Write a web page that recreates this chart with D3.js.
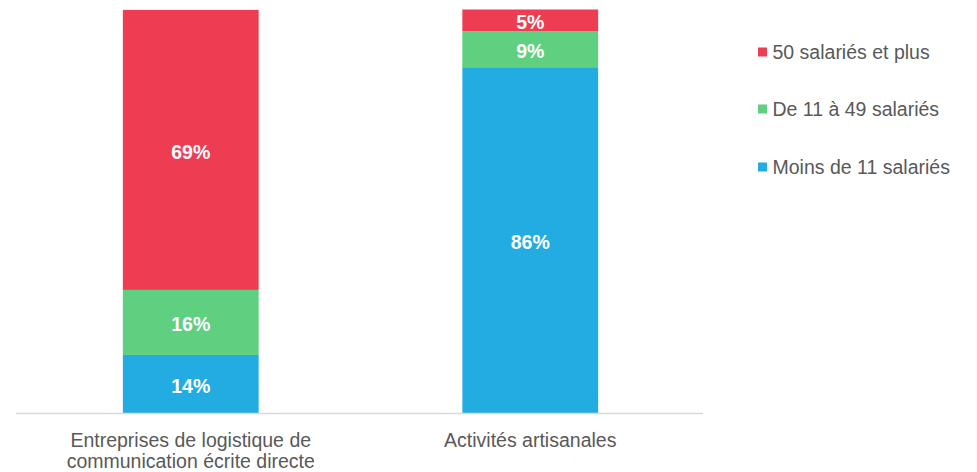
<!DOCTYPE html>
<meta charset="utf-8">
<script src="https://d3js.org/d3.v7.min.js"></script>
<style>
  body { margin: 0; background: #fff; }
  text { font-family: "Liberation Sans", Arial, sans-serif; }
</style>
<div id="chart"></div>
<script>
// data
var categories = [["Entreprises de logistique de", "communication écrite directe"], ["Activités artisanales"]];
var series = ["Moins de 11 salariés", "De 11 à 49 salariés", "50 salariés et plus"];
var moins11 = [14.4, 85.7];
var de11a49 = [16.1, 8.9];
var plus50 = [69.4, 5.4];
var colors = ["#23ace2", "#5fcf80", "#ee3d52"];

var width = 977, height = 472;

var svg = d3.select("#chart")
  .append("svg")
    .attr("width", width)
    .attr("height", height);

var keys = categories.map(function(c, i) { return "c" + i; });
var rows = keys.map(function(k, i) {
  return {key: k, s0: moins11[i], s1: de11a49[i], s2: plus50[i]};
});

var x = d3.scaleBand()
  .domain(keys)
  .range([21, 700])
  .paddingInner(0.6)
  .paddingOuter(0.3);

var y = d3.scaleLinear()
  .domain([0, 100])
  .range([413, 9.5]);

var stack = d3.stack().keys(["s0", "s1", "s2"]);
var layers = stack(rows);

// bars
var g = svg.selectAll(".layer")
  .data(layers)
  .enter().append("g")
    .attr("class", "layer")
    .attr("fill", function(d, i) { return colors[i]; });

g.selectAll("rect")
  .data(function(d) { return d; })
  .enter().append("rect")
    .attr("x", function(d) { return x(d.data.key); })
    .attr("y", function(d) { return y(d[1]); })
    .attr("width", x.bandwidth())
    .attr("height", function(d) { return y(d[0]) - y(d[1]); });

// value labels
g.selectAll("text")
  .data(function(d) { return d; })
  .enter().append("text")
    .attr("x", function(d) { return x(d.data.key) + x.bandwidth() / 2; })
    .attr("y", function(d) { return (y(d[0]) + y(d[1])) / 2; })
    .attr("dy", "0.46em")
    .attr("text-anchor", "middle")
    .attr("fill", "#fff")
    .style("font-size", "19.5px")
    .style("font-weight", "bold")
    .text(function(d) { return Math.round(d[1] - d[0]) + "%"; });

// x axis
var xAxis = svg.append("g")
  .attr("transform", "translate(0,413)")
  .call(d3.axisBottom(x).tickSize(0).tickFormat(""));
xAxis.select(".domain").attr("stroke", "#d9d9d9").attr("stroke-width", 1.3)
  .attr("d", "M16,0.5H703");

keys.forEach(function(k, i) {
  var t = svg.append("text")
    .attr("x", x(k) + x.bandwidth() / 2)
    .attr("y", 447)
    .attr("text-anchor", "middle")
    .attr("fill", "#595959")
    .style("font-size", "19.5px");
  categories[i].forEach(function(line, j) {
    t.append("tspan")
      .attr("x", x(k) + x.bandwidth() / 2)
      .attr("dy", j === 0 ? 0 : 21)
      .text(line);
  });
});

// legend
var legendY = [167, 109, 52];
var legend = svg.selectAll(".legend")
  .data(series)
  .enter().append("g")
    .attr("class", "legend")
    .attr("transform", function(d, i) { return "translate(758," + legendY[i] + ")"; });

legend.append("rect")
  .attr("x", 0)
  .attr("y", -4.5)
  .attr("width", 9)
  .attr("height", 9)
  .attr("fill", function(d, i) { return colors[i]; });

legend.append("text")
  .attr("x", 14.5)
  .attr("y", 0)
  .attr("dy", "0.35em")
  .attr("fill", "#595959")
  .style("font-size", "19.5px")
  .text(function(d) { return d; });
</script>
